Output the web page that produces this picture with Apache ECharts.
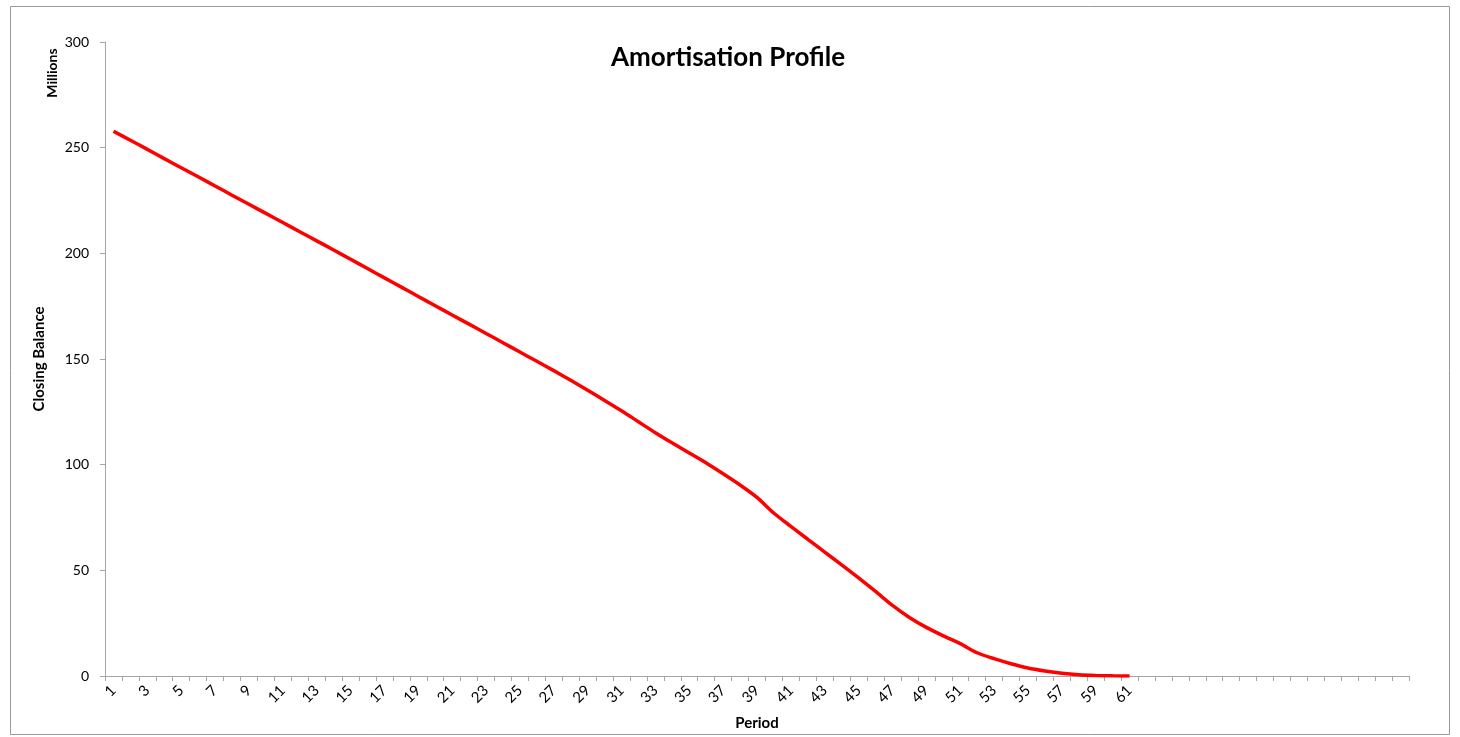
<!DOCTYPE html>
<html>
<head>
<meta charset="utf-8">
<script src="https://cdn.jsdelivr.net/npm/echarts@6/dist/echarts.min.js"></script>
<style>
html,body{margin:0;padding:0;background:#fff;}
#chart{width:1460px;height:737px;}
</style>
</head>
<body>
<div id="chart"></div>
<script>
// Period categories (77 slots on the axis; labels only for the first 61)
const periods = [];
for (let i = 1; i <= 77; i++) periods.push(i <= 61 ? String(i) : '');

// Closing balance (millions) by period 1..61
const closingBalance = [
  257.8, 253.5, 249.2, 244.8, 240.5, 236.2, 231.9, 227.5, 223.2, 218.9,
  214.6, 210.2, 205.9, 201.6, 197.2, 192.8, 188.4, 184.0, 179.6, 175.2,
  170.8, 166.5, 162.1, 157.7, 153.3, 148.9, 144.5, 139.9, 135.2, 130.4,
  125.5, 120.3, 115.1, 110.2, 105.5, 100.8, 95.7, 90.4, 84.5, 77.0,
  70.8, 64.7, 58.6, 52.6, 46.4, 40.0, 33.4, 27.7, 23.0, 19.0,
  15.3, 11.0, 8.2, 5.8, 3.8, 2.4, 1.3, 0.6, 0.25, 0.08,
  0
];

const yTicks = { min: 0, max: 300, interval: 50 };

const font = 'Lato, "Open Sans", "Liberation Sans", sans-serif';
const axisGray = '#a6a6a6';

const chart = echarts.init(document.getElementById('chart'), null, { renderer: 'canvas' });
chart.setOption({
  animation: false,
  backgroundColor: '#ffffff',
  textStyle: { fontFamily: font },
  title: {
    text: 'Amortisation Profile',
    left: 723, top: 40, textAlign: 'center',
    textStyle: { fontFamily: font, fontSize: 26, fontWeight: 'bold', color: '#000' }
  },
  graphic: [
    {
      type: 'rect', silent: true, z: -1,
      shape: { x: 10.5, y: 6.5, width: 1439, height: 728 },
      style: { fill: 'none', stroke: '#9a9a9a', lineWidth: 1 }
    },
    {
      type: 'text', silent: true,
      x: 52, y: 73, rotation: Math.PI / 2,
      style: {
        text: 'Millions', fontFamily: font, fontSize: 14, fontWeight: 'bold',
        fill: '#000', align: 'center', verticalAlign: 'middle'
      }
    }
  ],
  grid: { left: 105, right: 51, top: 42, bottom: 61, containLabel: false, outerBoundsMode: 'none' },
  xAxis: {
    type: 'category',
    data: periods,
    boundaryGap: true,
    name: 'Period',
    nameLocation: 'middle',
    nameGap: 40,
    nameTextStyle: { fontFamily: font, fontSize: 15, fontWeight: 'bold', color: '#000' },
    axisLine: { show: true, lineStyle: { color: axisGray, width: 1 } },
    axisTick: { show: true, interval: 0, alignWithLabel: false, length: 5, lineStyle: { color: axisGray } },
    axisLabel: { interval: 1, rotate: 45, fontSize: 15, color: '#000', margin: 12, fontFamily: font },
    splitLine: { show: false }
  },
  yAxis: {
    type: 'value',
    min: yTicks.min, max: yTicks.max, interval: yTicks.interval,
    name: 'Closing Balance',
    nameLocation: 'middle',
    nameGap: 58,
    nameTextStyle: { fontFamily: font, fontSize: 15, fontWeight: 'bold', color: '#000' },
    axisLine: { show: true, lineStyle: { color: axisGray, width: 1 } },
    axisTick: { show: true, length: 5, lineStyle: { color: axisGray } },
    axisLabel: { fontSize: 14, color: '#000', margin: 16, fontFamily: font },
    splitLine: { show: false }
  },
  series: [{
    type: 'line',
    data: closingBalance,
    smooth: 0.25,
    symbol: 'none',
    lineStyle: { color: '#ff0000', width: 3.5 },
    itemStyle: { color: '#ff0000' }
  }]
});
</script>
</body>
</html>
